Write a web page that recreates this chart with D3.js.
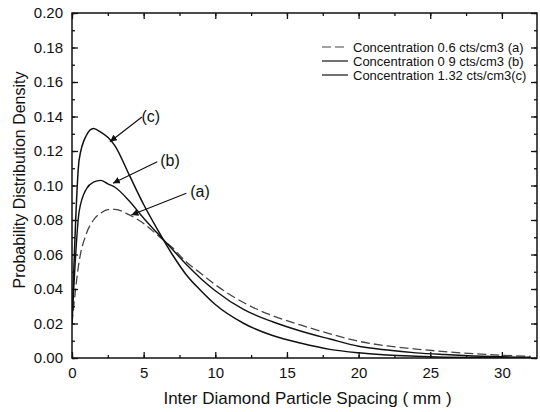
<!DOCTYPE html>
<html>
<head>
<meta charset="utf-8">
<script src="https://cdn.jsdelivr.net/npm/d3@7/dist/d3.min.js"></script>
<style>
  body { margin: 0; background: #fff; }
  svg { display: block; font-family: "Liberation Sans", Arial, sans-serif; }
</style>
</head>
<body>
<svg id="chart" width="540" height="412"></svg>
<script>
// spacing values (mm)
const spacing = [0, 0.5, 1, 1.5, 2, 2.5, 3, 4, 5, 6, 7, 8, 9, 10, 12, 14, 16, 18, 20, 22, 24, 26, 28, 30, 32];

// probability density
const densA = [0.020, 0.056, 0.072, 0.080, 0.084, 0.086, 0.0862, 0.083, 0.078, 0.071, 0.064, 0.0555, 0.049, 0.0425,
               0.032, 0.0245, 0.019, 0.014, 0.0097, 0.007, 0.0052, 0.0037, 0.0025, 0.0016, 0.001];
const densB = [0.020, 0.085, 0.098, 0.102, 0.103, 0.101, 0.099, 0.091, 0.081, 0.072, 0.063, 0.054, 0.046, 0.039,
               0.028, 0.021, 0.0155, 0.011, 0.0068, 0.0046, 0.003, 0.002, 0.0012, 0.0007, 0.0004];
const densC = [0.020, 0.115, 0.129, 0.133, 0.131, 0.128, 0.123, 0.106, 0.089, 0.074, 0.060, 0.048, 0.039, 0.031,
               0.020, 0.013, 0.0085, 0.005, 0.003, 0.0017, 0.001, 0.0005, 0.0003, 0.0001, 0.0];

const seriesNames = ["Concentration 0.6 cts/cm3 (a)", "Concentration 0 9 cts/cm3 (b)", "Concentration 1.32 cts/cm3(c)"];

const xTicks = [0, 5, 10, 15, 20, 25, 30];
const yTicks = [0, 0.02, 0.04, 0.06, 0.08, 0.10, 0.12, 0.14, 0.16, 0.18, 0.20];

// annotation labels: text position and arrow tip, in data units
const labels = ["(c)", "(b)", "(a)"];
const labelPos = [[5.5, 0.1403], [6.84, 0.1148], [8.93, 0.0968]];
const arrowFrom = [[4.88, 0.1397], [5.95, 0.1138], [7.98, 0.0955]];
const arrowTo = [[2.65, 0.1254], [2.86, 0.1013], [4.14, 0.0829]];

(function () {
const svg = d3.select("#chart");
const mLeft = 72, mRight = 537, mTop = 13, mBottom = 358;

const x = d3.scaleLinear().domain([0, 32.45]).range([mLeft, mRight]);
const y = d3.scaleLinear().domain([0, 0.2]).range([mBottom, mTop]);

// clip so curves stay in the frame
const defs = svg.append("defs");
defs.append("clipPath").attr("id", "plot")
    .append("rect").attr("x", mLeft).attr("y", mTop).attr("width", mRight - mLeft).attr("height", mBottom - mTop);

const line = d3.line()
    .x(d => x(d[0]))
    .y(d => y(d[1]))
    .curve(d3.curveMonotoneX);

const series = [
    { vals: densA, dash: "9,4", color: "#444", width: 1.3 },
    { vals: densB, dash: null, color: "#111", width: 1.4 },
    { vals: densC, dash: null, color: "#111", width: 1.5 }
];

const g = svg.append("g").attr("clip-path", "url(#plot)");
series.forEach(s => {
    g.append("path")
        .datum(spacing.map((v, i) => [v, s.vals[i]]))
        .attr("d", line)
        .attr("fill", "none")
        .attr("stroke", s.color)
        .attr("stroke-width", s.width)
        .attr("stroke-dasharray", s.dash);
});

// axes: bottom / left with labels, top / right mirrored without
const xMinor = d3.range(0, 32.5, 2.5);
const yMinor = d3.range(0, 0.2001, 0.01);
const noLabel = () => "";

function tickAxis(axis, scale, ticks, minor, fmt, pos) {
    const grp = svg.append("g").attr("transform", pos);
    grp.call(axis(scale).tickValues(minor).tickSize(-3).tickFormat(noLabel));
    const major = svg.append("g").attr("transform", pos);
    major.call(axis(scale).tickValues(ticks).tickSize(-6).tickPadding(9).tickFormat(fmt));
    [grp, major].forEach(a => {
        a.select(".domain").remove();
        a.selectAll("line").attr("stroke", "#111").attr("stroke-width", 1.3);
    });
    return major;
}

const xb = tickAxis(d3.axisBottom, x, xTicks, xMinor, d3.format("d"), `translate(0,${mBottom})`);
xb.selectAll("text").attr("font-size", 15).attr("fill", "#111");
const yl = tickAxis(d3.axisLeft, y, yTicks, yMinor, d3.format(".2f"), `translate(${mLeft},0)`);
yl.selectAll("text").attr("font-size", 15).attr("fill", "#111");
tickAxis(d3.axisTop, x, xTicks, xMinor, noLabel, `translate(0,${mTop})`);
tickAxis(d3.axisRight, y, yTicks, yMinor, noLabel, `translate(${mRight},0)`);

// frame
svg.append("rect")
    .attr("x", mLeft).attr("y", mTop)
    .attr("width", mRight - mLeft).attr("height", mBottom - mTop)
    .attr("fill", "none").attr("stroke", "#111").attr("stroke-width", 1.5);

// axis titles
svg.append("text")
    .attr("x", (mLeft + mRight) / 2 + 3).attr("y", 404)
    .attr("text-anchor", "middle").attr("font-size", 17).attr("fill", "#111")
    .text("Inter Diamond Particle Spacing ( mm )");

svg.append("text")
    .attr("transform", "translate(25,180) rotate(-90)")
    .attr("text-anchor", "middle").attr("font-size", 16).attr("fill", "#111")
    .text("Probability Distribution Density");

// legend
const legend = svg.append("g").attr("transform", "translate(322,47)");
series.forEach((s, i) => {
    const row = legend.append("g").attr("transform", `translate(0,${i * 14})`);
    row.append("line")
        .attr("x1", 0).attr("x2", 26).attr("y1", 0).attr("y2", 0)
        .attr("stroke", s.color).attr("stroke-width", 1.2)
        .attr("stroke-dasharray", s.dash);
    row.append("text")
        .attr("x", 31).attr("y", 0).attr("dy", "0.35em")
        .attr("font-size", 13).attr("fill", "#111")
        .text(seriesNames[i]);
});

// arrows with labels
defs.append("marker")
    .attr("id", "arrow")
    .attr("viewBox", "0 0 10 10")
    .attr("refX", 10).attr("refY", 5)
    .attr("markerWidth", 7).attr("markerHeight", 7)
    .attr("markerUnits", "userSpaceOnUse")
    .attr("orient", "auto")
    .append("path").attr("d", "M0,0 L10,5 L0,10 z").attr("fill", "#111");

labels.forEach((t, i) => {
    svg.append("line")
        .attr("x1", x(arrowFrom[i][0])).attr("y1", y(arrowFrom[i][1]))
        .attr("x2", x(arrowTo[i][0])).attr("y2", y(arrowTo[i][1]))
        .attr("stroke", "#111").attr("stroke-width", 1.2)
        .attr("marker-end", "url(#arrow)");
    svg.append("text")
        .attr("x", x(labelPos[i][0])).attr("y", y(labelPos[i][1]))
        .attr("dy", "0.35em").attr("text-anchor", "middle")
        .attr("font-size", 16).attr("fill", "#111")
        .text(t);
});
})();
</script>
</body>
</html>
